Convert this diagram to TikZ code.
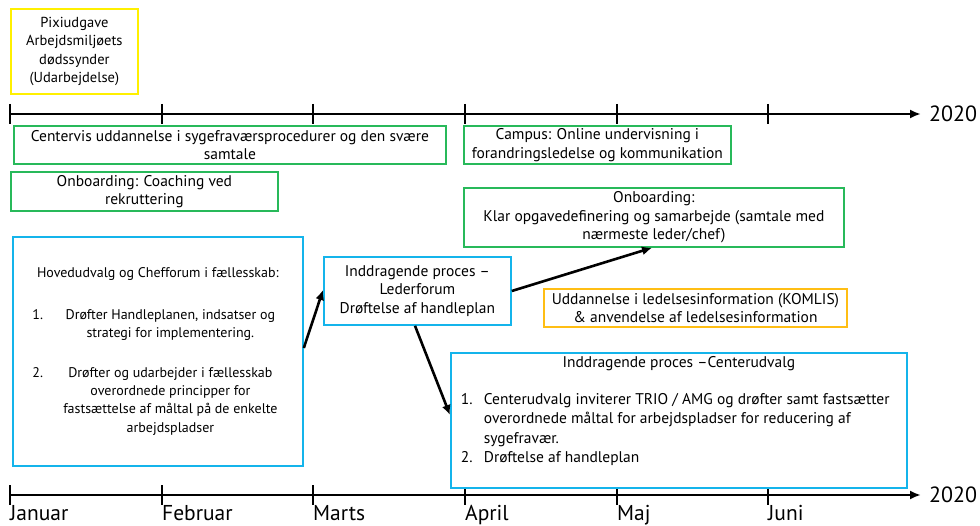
\documentclass[tikz,border=0pt]{standalone}
\usepackage{fontspec}
\setmainfont{PT Sans}
\usetikzlibrary{arrows.meta}
\definecolor{boxgreen}{RGB}{40,185,90}
\definecolor{boxblue}{RGB}{20,180,235}
\definecolor{boxyellow}{RGB}{255,240,0}
\definecolor{boxorange}{RGB}{255,190,20}
\begin{document}
\begin{tikzpicture}[x=1pt,y=-1pt,
  basebox/.style={draw, line width=1.8pt, fill=white, inner sep=1pt, align=center, anchor=north west,
    font=\fontsize{15.5}{18.5}\selectfont},
  gbox/.style={basebox, draw=boxgreen},
  bbox/.style={basebox, draw=boxblue},
  ybox/.style={basebox, draw=boxyellow},
  obox/.style={basebox, draw=boxorange},
  axis/.style={line width=2.6pt, -{Latex[length=11pt,width=9pt]}},
  tickmark/.style={line width=2pt},
  conn/.style={line width=2.6pt, -{Latex[length=10pt,width=9pt]}},
  month/.style={anchor=base west, inner sep=0pt, font=\fontsize{21.5}{24}\selectfont},
  yearlbl/.style={anchor=west, inner sep=0pt, font=\fontsize{22}{24}\selectfont}
]
\useasboundingbox (0,0) rectangle (980,526);

% top timeline
\coordinate (ta) at (10,114);
\coordinate (tb) at (921,114);
\draw[axis] (ta) -- (tb);
\foreach \x in {10,162,313,465,617,768} \draw[tickmark] (\x,104) -- (\x,124);
\node[yearlbl] (y1) at (929,114) {2020};

% bottom timeline
\coordinate (ba) at (10,495);
\coordinate (bb) at (921,495);
\draw[axis] (ba) -- (bb);
\foreach \x in {10,162,313,465,617,768} \draw[tickmark] (\x,485) -- (\x,505);
\node[yearlbl] (y2) at (929,495) {2020};

\node[month] (m1) at (10,520) {Januar};
\node[month] (m2) at (162,520) {Februar};
\node[month] (m3) at (313,520) {Marts};
\node[month] (m4) at (465,520) {April};
\node[month] (m5) at (617,520) {Maj};
\node[month] (m6) at (768,520) {Juni};

% boxes
\node[ybox, minimum width=127pt, minimum height=85pt, font=\fontsize{14.5}{18.3}\selectfont] (pixi) at (10,8)
  {Pixiudgave\\Arbejdsmiljøets\\dødssynder\\(Udarbejdelse)};

\node[gbox, minimum width=432pt, minimum height=38pt, font=\fontsize{15.5}{17.5}\selectfont] (centervis) at (13,125)
  {Centervis uddannelse i sygefraværsprocedurer og den svære\\samtale};

\node[gbox, minimum width=267pt, minimum height=39pt, font=\fontsize{15.5}{17.5}\selectfont] (onb1) at (10,171)
  {Onboarding: Coaching ved\\rekruttering};

\node[gbox, minimum width=267pt, minimum height=38pt] (campus) at (463,125)
  {Campus: Online undervisning i\\forandringsledelse og kommunikation};

\node[gbox, minimum width=380pt, minimum height=59pt] (onb2) at (463,187)
  {Onboarding:\\Klar opgavedefinering og samarbejde (samtale med\\nærmeste leder/chef)};

\node[obox, minimum width=303pt, minimum height=38pt] (komlis) at (543,288)
  {Uddannelse i ledelsesinformation (KOMLIS)\\\&~anvendelse af ledelsesinformation};

\node[bbox, minimum width=290pt, minimum height=229pt, font=\fontsize{14}{18.2}\selectfont] (hoved) at (12,236)
  {\makebox[251pt][c]{Hovedudvalg og Chefforum i fællesskab:}\\[23pt]
   \makebox[25pt][l]{1.}\makebox[226pt][c]{Drøfter Handleplanen, indsatser og}\\
   \makebox[25pt][l]{}\makebox[226pt][c]{strategi for implementering.}\\[22pt]
   \makebox[25pt][l]{2.}\makebox[226pt][c]{Drøfter og udarbejder i fællesskab}\\
   \makebox[25pt][l]{}\makebox[226pt][c]{overordnede principper for}\\
   \makebox[25pt][l]{}\makebox[226pt][c]{fastsættelse af måltal på de enkelte}\\
   \makebox[25pt][l]{}\makebox[226pt][c]{arbejdspladser}};

\node[bbox, minimum width=187pt, minimum height=68pt] (leder) at (323,256)
  {Inddragende proces –\\Lederforum\\Drøftelse af handleplan};

\node[bbox, minimum width=456pt, minimum height=135pt, font=\fontsize{15.5}{19.5}\selectfont] (center) at (450,352)
  {\makebox[436pt][c]{Inddragende proces –Centerudvalg}\\[17pt]
   \makebox[436pt][l]{\makebox[23pt][l]{1.}Centerudvalg inviterer TRIO / AMG og drøfter samt fastsætter}\\
   \makebox[436pt][l]{\hspace*{23pt}overordnede måltal for arbejdspladser for reducering af}\\
   \makebox[436pt][l]{\hspace*{23pt}sygefravær.}\\
   \makebox[436pt][l]{\makebox[23pt][l]{2.}Drøftelse af handleplan}\\[2pt]};

% connectors
\draw[conn] (hoved.east |- 0,348) -- (leder.west |- 0,290);
\draw[conn] (leder.east |- 0,291) -- (onb2.south -| 652,0);
\draw[conn] (leder.south -| 415,0) -- (center.west |- 0,415);
\end{tikzpicture}
\end{document}
